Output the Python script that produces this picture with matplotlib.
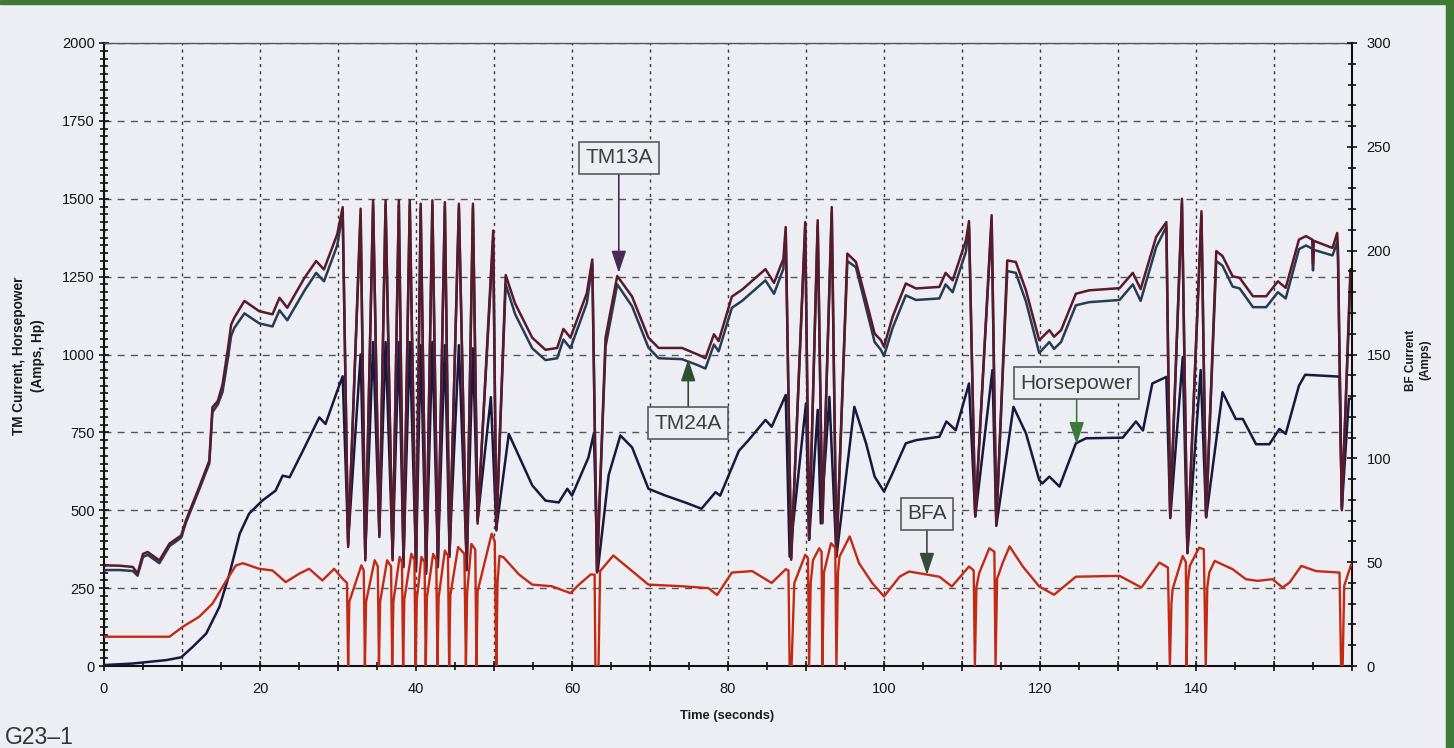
import matplotlib
matplotlib.use("Agg")
import matplotlib.pyplot as plt
import numpy as np
from matplotlib.patches import Rectangle
from matplotlib.ticker import FixedLocator, FixedFormatter

plt.rcParams['font.family'] = ['Liberation Sans', 'DejaVu Sans']

# ---------------- data ----------------
tm_t = [0.0, 0.3, 2.0, 3.7, 4.3, 5.0, 5.6, 7.1, 8.4, 9.9,
        10.5, 12.2, 13.5, 13.9, 14.6, 15.2, 15.9, 16.3, 16.7, 18.0,
        19.9, 21.6, 22.5, 23.5, 25.7, 27.2, 28.2, 29.9, 30.6, 31.3,
        32.9, 33.5, 34.5, 35.3, 36.1, 37.0, 37.8, 38.4, 39.2, 40.0,
        40.6, 41.3, 42.1, 42.8, 43.7, 44.3, 45.5, 46.5, 47.3, 47.9,
        49.9, 50.3, 51.5, 52.7, 54.9, 56.6, 58.1, 58.9, 59.8, 61.9,
        62.6, 63.2, 64.3, 65.8, 67.7, 69.8, 71.1, 74.1, 76.2, 77.1,
        78.2, 78.8, 80.5, 81.8, 84.8, 85.9, 87.1, 87.4, 88.1, 89.9,
        90.4, 91.5, 92.1, 93.3, 93.9, 95.3, 96.4, 97.7, 98.8, 99.6,
        100.0, 101.1, 102.8, 104.1, 107.1, 107.9, 108.8, 110.5, 110.9, 111.7,
        113.8, 114.4, 115.8, 116.9, 118.2, 119.9, 121.2, 121.8, 122.7, 124.6,
        126.3, 130.2, 131.9, 132.9, 134.9, 136.2, 136.7, 138.2, 138.9, 140.7,
        141.3, 142.6, 143.4, 144.7, 145.6, 147.3, 149.0, 150.5, 151.5, 153.2,
        154.1, 154.9, 155.0, 155.1, 157.5, 158.1, 158.2, 158.7, 159.8, 160.0]

tm13a = [320, 323, 322, 318, 297, 360, 366, 339, 393, 419,
         467, 574, 659, 830, 851, 904, 1021, 1096, 1118, 1172,
         1139, 1129, 1182, 1150, 1246, 1300, 1273, 1386, 1473, 382,
         1468, 339, 1495, 414, 1495, 339, 1495, 317, 1495, 307,
         1484, 296, 1495, 317, 1489, 350, 1484, 307, 1484, 457,
         1398, 435, 1255, 1164, 1054, 1015, 1021, 1082, 1054, 1197,
         1305, 300, 1054, 1252, 1186, 1054, 1021, 1021, 999, 988,
         1065, 1043, 1186, 1208, 1274, 1230, 1307, 1409, 341, 1425,
         405, 1431, 458, 1473, 351, 1324, 1297, 1174, 1067, 1046,
         1025, 1121, 1228, 1212, 1217, 1262, 1238, 1366, 1428, 480,
         1447, 455, 1302, 1297, 1206, 1046, 1078, 1057, 1078, 1195,
         1206, 1213, 1262, 1210, 1378, 1425, 478, 1500, 362, 1460,
         478, 1332, 1316, 1251, 1246, 1187, 1187, 1235, 1214, 1369,
         1380, 1369, 1290, 1365, 1342, 1390, 1337, 500, 1273, 1275]

tm24a = [305, 308, 308, 305, 290, 350, 357, 330, 385, 412,
         460, 566, 650, 815, 840, 880, 990, 1060, 1085, 1132,
         1100, 1090, 1142, 1110, 1205, 1262, 1235, 1350, 1455, 390,
         1450, 345, 1480, 420, 1480, 345, 1480, 325, 1480, 315,
         1470, 305, 1480, 325, 1475, 358, 1470, 315, 1470, 465,
         1370, 440, 1225, 1130, 1020, 982, 988, 1048, 1020, 1165,
         1290, 305, 1025, 1225, 1155, 1022, 988, 985, 965, 955,
         1032, 1010, 1150, 1172, 1238, 1195, 1275, 1395, 345, 1410,
         410, 1415, 462, 1455, 355, 1300, 1280, 1150, 1040, 1015,
         995, 1085, 1190, 1175, 1180, 1225, 1200, 1330, 1410, 485,
         1430, 460, 1268, 1262, 1170, 1005, 1040, 1018, 1040, 1158,
         1168, 1175, 1225, 1172, 1345, 1410, 482, 1485, 366, 1445,
         482, 1300, 1285, 1218, 1212, 1152, 1152, 1200, 1180, 1338,
         1350, 1340, 1270, 1336, 1318, 1360, 1312, 505, 1250, 1252]

hp_t = [0.0, 3.7, 8.0, 9.9, 11.4, 13.1, 14.8, 16.1, 17.4, 18.6,
        20.3, 22.0, 22.9, 23.8, 25.5, 27.6, 28.4, 29.9, 30.6, 31.3,
        32.9, 33.5, 34.5, 35.3, 36.1, 37.0, 37.8, 38.4, 39.2, 40.0,
        40.6, 41.3, 42.1, 42.8, 43.7, 44.3, 45.5, 46.5, 47.3, 47.9,
        49.6, 50.3, 51.9, 54.9, 56.6, 58.3, 59.4, 60.0, 62.1, 62.8,
        63.3, 64.7, 66.2, 67.7, 69.8, 72.0, 74.5, 76.6, 78.4, 79.0,
        81.4, 82.6, 84.8, 85.6, 87.4, 87.9, 90.0, 90.4, 91.5, 91.9,
        93.0, 93.9, 96.2, 97.7, 98.8, 100.0, 101.1, 102.8, 104.1, 107.1,
        108.0, 109.2, 110.9, 111.7, 113.9, 114.4, 116.6, 118.2, 119.9, 120.3,
        121.2, 122.5, 124.6, 125.9, 130.6, 132.3, 133.2, 134.4, 136.2, 136.7,
        138.3, 138.9, 140.6, 141.3, 143.4, 145.1, 146.0, 147.7, 149.4, 150.7,
        151.5, 153.2, 154.0, 158.4, 158.7, 159.6, 160.0]

hp = [3, 8, 19, 28, 62, 104, 190, 297, 425, 489,
      531, 563, 611, 606, 691, 798, 777, 883, 930, 400,
      1000, 360, 1040, 430, 1040, 360, 1040, 340, 1040, 330,
      1030, 320, 1040, 340, 1030, 370, 1030, 330, 1020, 470,
      863, 440, 745, 580, 531, 525, 569, 547, 669, 746,
      305, 613, 740, 702, 569, 547, 525, 505, 558, 547,
      691, 724, 790, 768, 870, 351, 843, 405, 822, 458,
      864, 351, 832, 715, 608, 560, 619, 715, 725, 736,
      785, 757, 907, 480, 950, 450, 832, 747, 597, 586,
      608, 576, 715, 731, 733, 785, 756, 907, 928, 475,
      992, 363, 950, 477, 879, 793, 793, 712, 712, 761,
      745, 900, 935, 929, 509, 857, 860]

bfa_t = [0.0, 8.4, 10.1, 12.2, 13.9, 15.7, 16.9, 17.8, 19.9, 21.6,
         23.3, 25.0, 26.3, 28.0, 29.5, 30.6, 31.15, 31.3, 31.45, 33.0,
         33.3, 33.45, 33.6, 34.7, 35.1, 35.25, 35.4, 36.3, 36.8, 36.95,
         37.1, 37.9, 38.2, 38.35, 38.5, 39.4, 39.8, 39.95, 40.1, 40.7,
         41.1, 41.25, 41.4, 42.2, 42.6, 42.75, 42.9, 43.7, 44.1, 44.25,
         44.4, 45.4, 46.2, 46.4, 46.55, 47.1, 47.6, 47.75, 47.9, 49.7,
         50.1, 50.3, 50.45, 50.7, 51.2, 53.2, 54.9, 57.4, 59.8, 60.9,
         62.4, 62.9, 63.0, 63.4, 63.6, 65.3, 67.7, 69.8, 74.1, 77.5,
         78.6, 80.5, 83.1, 85.6, 87.4, 87.75, 87.9, 88.15, 88.5, 89.9,
         90.25, 90.4, 90.6, 90.9, 91.7, 92.0, 92.1, 92.3, 93.2, 93.75,
         93.9, 94.1, 94.3, 95.6, 96.8, 98.5, 100.0, 102.0, 103.2, 107.1,
         108.7, 110.9, 111.5, 111.65, 111.85, 112.2, 113.5, 114.15, 114.3, 114.5,
         115.2, 116.1, 117.8, 119.9, 121.8, 124.6, 130.2, 133.0, 135.3, 136.4,
         136.65, 136.85, 137.0, 138.3, 138.7, 138.8, 138.95, 139.2, 140.4, 141.0,
         141.25, 141.45, 141.7, 142.4, 144.7, 146.4, 147.9, 149.8, 151.1, 152.0,
         153.5, 155.4, 158.4, 158.6, 158.8, 159.0, 159.9, 160.0]

bfa = [14.1, 14.1, 18.9, 23.7, 30, 41.2, 48.4, 49.5, 46.8, 46,
       40.4, 44.4, 46.8, 41.2, 46.8, 42, 40, 0, 31, 48.5,
       46, 0, 31, 50.9, 48, 0, 31, 50.9, 48, 0,
       31, 52.5, 50, 0, 32, 54, 51, 0, 32, 52.5,
       50, 0, 33, 54, 51, 0, 33, 55.6, 53, 0,
       34, 57.3, 54, 0, 35, 58.8, 56, 0, 36, 63.7,
       60, 0, 40, 53, 52.4, 44.1, 39.2, 38.4, 35.1, 39.2,
       44.1, 44, 0, 0, 45.7, 53.2, 45.7, 39.2, 38.4, 37.5,
       34.2, 45, 45.7, 40, 46.6, 46, 0, 0, 39.9, 53.5,
       52, 0, 40, 51, 56.7, 55, 0, 45, 59.1, 57,
       0, 45, 52.7, 62.4, 49.5, 39.9, 33.5, 43, 45.5, 43,
       38.3, 47.9, 46, 0, 38, 44.7, 56.7, 55, 0, 42,
       49.5, 57.6, 47.9, 38.3, 34.3, 43, 43.4, 37.8, 49.8, 47.4,
       0, 30, 37, 53, 50, 0, 40, 48.2, 57, 56.2,
       0, 38, 45, 50.6, 46.6, 41.8, 41, 41.8, 37.8, 40.2,
       48.2, 45.7, 45, 0, 0, 38.6, 49, 49]

x_major = list(range(0, 161, 10))
x_labels = [str(v) if (v % 20 == 0 and v <= 140) else '' for v in x_major]
y_left_major = list(range(0, 2001, 250))
y_right_major = list(range(0, 301, 50))

# annotations: (text, tip, box centre) in left-axis data units
annots = [
    ("TM13A", (66.0, 1262), (66.0, 1631), '#4a2b58'),
    ("TM24A", (74.9, 985), (74.9, 780), '#2f4f2f'),
    ("Horsepower", (124.7, 712), (124.7, 908), '#3c7a3c'),
    ("BFA", (105.5, 292), (105.5, 488), '#3a4a3a'),
]

# ---------------- drawing ----------------
bg = '#edeef3'
W, H = 1454, 748
fig = plt.figure(figsize=(W / 100, H / 100), dpi=100, facecolor=bg)
ax = fig.add_axes([104 / W, 1 - 666 / H, (1352 - 104) / W, (666 - 43) / H])
ax.set_facecolor(bg)
ax2 = ax.twinx()

ax.plot(hp_t, hp, color='#1a1840', lw=1.8, zorder=3)
ax.plot(tm_t, tm24a, color='#263c55', lw=1.8, zorder=4)
ax.plot(tm_t, tm13a, color='#5a1a2c', lw=1.8, zorder=5)
ax2.plot(bfa_t, bfa, color='#c22a14', lw=1.7, zorder=3)

ax.set_xlim(0, 160)
ax.set_ylim(0, 2000)
ax2.set_ylim(0, 300)

ax.xaxis.set_major_locator(FixedLocator(x_major))
ax.xaxis.set_major_formatter(FixedFormatter(x_labels))
ax.set_xticks(np.arange(0, 161, 5), minor=True)
ax.set_yticks(y_left_major)
ax.set_yticks(np.arange(0, 2001, 25), minor=True)
ax2.set_yticks(y_right_major)
ax2.set_yticks(np.arange(0, 301, 10), minor=True)

ax.xaxis.grid(True, which='major', linestyle=(0, (2.2, 3.0)), color='#3a3a3a', lw=1.0)
ax.yaxis.grid(True, which='major', linestyle=(0, (5, 4.5)), color='#555555', lw=1.0)
ax.set_axisbelow(True)

for a in (ax, ax2):
    a.tick_params(which='both', direction='inout', color='#111111', width=1.2,
                  labelsize=10.5, labelcolor='#151515')
    a.tick_params(which='major', length=7)
    a.tick_params(which='minor', length=6)
ax.tick_params(axis='x', pad=8)
ax.tick_params(axis='y', pad=3)
ax2.tick_params(axis='y', pad=7)

for s in ('left', 'bottom'):
    ax.spines[s].set_color('#111111')
    ax.spines[s].set_linewidth(1.5)
ax.spines['right'].set_visible(False)
ax.spines['top'].set_linestyle((0, (1.5, 1.0)))
ax.spines['top'].set_color('#555555')
ax.spines['top'].set_linewidth(1.0)
for s in ('left', 'bottom', 'top'):
    ax2.spines[s].set_visible(False)
ax2.spines['right'].set_color('#111111')
ax2.spines['right'].set_linewidth(1.5)

for text, tip, box, col in annots:
    ax2.annotate(text, xy=tip, xycoords=ax.transData, xytext=box, textcoords=ax.transData,
                 ha='center', va='center', fontsize=15, color='#3d3d3d', zorder=10,
                 bbox=dict(boxstyle='square,pad=0.3', fc=bg, ec='#5a5a5a', lw=1.2),
                 arrowprops=dict(arrowstyle='-|>,head_length=0.9,head_width=0.3',
                                 color=col, lw=1.2, shrinkA=0, shrinkB=0))

fig.text(19 / W, 1 - 356 / H, 'TM Current, Horsepower', rotation=90, ha='center', va='center',
         fontsize=9.8, fontweight='bold', color='#1a1a1a')
fig.text(38 / W, 1 - 356 / H, '(Amps, Hp)', rotation=90, ha='center', va='center',
         fontsize=9.8, fontweight='bold', color='#1a1a1a')
fig.text(1411 / W, 1 - 360 / H, 'BF Current', rotation=90, ha='center', va='center',
         fontsize=8.5, fontweight='bold', color='#1a1a1a')
fig.text(1425 / W, 1 - 360 / H, '(Amps)', rotation=90, ha='center', va='center',
         fontsize=8.5, fontweight='bold', color='#1a1a1a')
fig.text(727 / W, 1 - 716 / H, 'Time (seconds)', ha='center', va='center',
         fontsize=9.3, fontweight='bold', color='#1a1a1a')
fig.text(5 / W, 1 - 737 / H, 'G23\u20131', ha='left', va='center', fontsize=16.5, color='#333333')

# green frame of the original figure
fig.patches.append(Rectangle((0, 1 - 4 / H), 1, 4 / H, transform=fig.transFigure,
                             color='#3f7a35', zorder=20))
fig.patches.append(Rectangle((1 - 8 / W, 0), 8 / W, 1, transform=fig.transFigure,
                             color='#3f7a35', zorder=20))

fig.savefig('out.png', dpi=100, facecolor=bg)
